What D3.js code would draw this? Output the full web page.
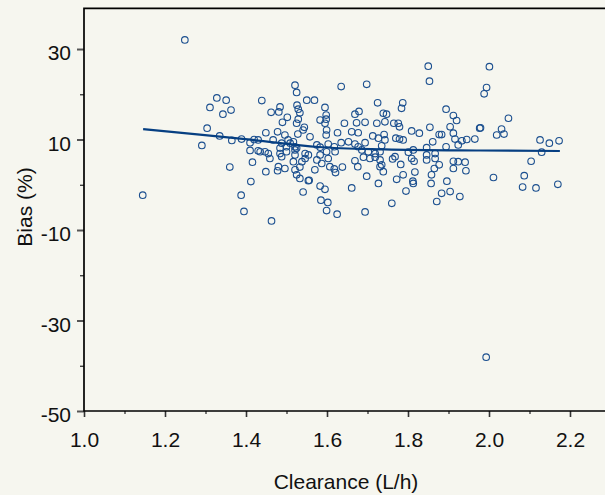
<html>
<head>
<meta charset="utf-8">
<script src="https://d3js.org/d3.v7.min.js"></script>
<style>
  body { margin: 0; padding: 0; background: #f6f6ef; }
  svg { display: block; }
  text { font-family: "Liberation Sans", Arial, sans-serif; fill: #111; }
</style>
</head>
<body>
<svg id="chart" width="605" height="495"></svg>
<script>
// values
const clearance = [
  1.145, 1.249, 1.328, 1.351, 1.311, 1.363, 1.343, 1.304, 1.335, 1.291,
  1.365, 1.389, 1.410, 1.410, 1.430, 1.416, 1.360, 1.412, 1.388, 1.395,
  1.420, 1.435, 1.430, 1.439, 1.463, 1.462, 1.484, 1.481, 1.502, 1.490,
  1.521, 1.525, 1.526, 1.529, 1.533, 1.525, 1.529, 1.449, 1.478, 1.496,
  1.528, 1.504, 1.488, 1.500, 1.509, 1.517, 1.521, 1.484, 1.467, 1.447,
  1.455, 1.484, 1.500, 1.521, 1.521, 1.459, 1.488, 1.449, 1.480, 1.478,
  1.496, 1.521, 1.525, 1.533, 1.517, 1.538, 1.533, 1.541, 1.554, 1.525,
  1.546, 1.554, 1.546, 1.550, 1.569, 1.635, 1.698, 1.595, 1.725, 1.669,
  1.679, 1.583, 1.598, 1.598, 1.643, 1.673, 1.694, 1.723, 1.739, 1.541,
  1.544, 1.595, 1.599, 1.598, 1.626, 1.661, 1.677, 1.713, 1.727, 1.743,
  1.558, 1.575, 1.583, 1.603, 1.618, 1.635, 1.653, 1.669, 1.677, 1.694,
  1.735, 1.583, 1.599, 1.620, 1.603, 1.575, 1.587, 1.669, 1.690, 1.706,
  1.719, 1.731, 1.686, 1.702, 1.719, 1.570, 1.607, 1.618, 1.638, 1.621,
  1.676, 1.731, 1.698, 1.727, 1.556, 1.583, 1.595, 1.661, 1.585, 1.602,
  1.599, 1.625, 1.694, 1.850, 1.853, 2.001, 1.994, 1.988, 1.787, 1.784,
  1.747, 1.894, 1.912, 1.920, 1.743, 1.765, 1.776, 1.779, 2.048, 1.854,
  1.904, 1.977, 1.979, 2.031, 2.019, 2.037, 1.809, 1.828, 1.877, 1.883,
  1.912, 1.741, 1.770, 1.779, 1.788, 1.861, 1.916, 1.933, 1.945, 1.965,
  1.894, 1.924, 1.846, 1.801, 1.813, 1.731, 1.867, 1.846, 1.768, 1.762,
  1.809, 1.815, 1.846, 1.867, 1.912, 1.924, 1.941, 1.735, 1.782, 1.817,
  1.877, 1.865, 1.912, 1.943, 1.739, 1.788, 1.772, 1.858, 1.812, 1.813,
  1.857, 1.896, 2.011, 1.795, 1.883, 1.904, 1.928, 1.871, 1.760, 1.993,
  2.126, 2.149, 2.173, 2.130, 2.104, 2.087, 2.083, 2.116, 2.170
];
const bias = [
  -2.3, 32.0, 19.2, 18.7, 17.1, 16.5, 15.6, 12.5, 10.8, 8.7,
  9.8, 10.1, 9.3, 7.6, 7.5, 5.0, 3.9, 0.7, -2.3, -5.9,
  10.0, 7.3, 9.9, 18.6, -8.0, 16.0, 17.2, 16.1, 14.9, 13.8,
  22.0, 20.4, 17.6, 16.7, 15.9, 13.6, 14.5, 11.5, 11.7, 11.0,
  11.2, 9.9, 9.2, 8.4, 9.2, 9.5, 8.4, 8.1, 9.9, 7.3,
  6.9, 6.9, 7.3, 7.7, 6.6, 5.8, 6.2, 2.9, 4.0, 3.1,
  3.6, 3.3, 2.2, 1.4, 5.1, 5.1, 3.9, -1.6, 0.9, 8.1,
  5.8, 6.6, 6.9, 18.7, 18.7, 21.7, 22.2, 17.1, 18.1, 15.6,
  16.2, 14.3, 14.5, 15.4, 13.6, 13.7, 13.8, 13.6, 15.8, 12.1,
  12.7, 13.6, 12.1, 11.0, 11.5, 11.7, 11.5, 10.8, 10.3, 9.9,
  10.6, 8.8, 8.3, 9.0, 8.4, 9.3, 9.5, 9.0, 8.4, 9.3,
  8.6, 6.6, 7.3, 7.3, 5.8, 5.5, 4.7, 5.3, 6.1, 5.8,
  6.1, 5.5, 7.7, 7.3, 6.9, 3.3, 4.0, 3.5, 3.9, 2.7,
  4.0, 4.0, 1.9, 0.3, 1.0, -0.3, -1.0, -0.7, -3.4, -3.9,
  -5.7, -6.5, -6.0, 26.2, 22.9, 26.1, 21.5, 20.1, 18.1, 16.9,
  15.6, 16.7, 15.3, 14.2, 13.9, 13.6, 13.6, 12.8, 14.7, 12.7,
  12.8, 12.5, 12.6, 12.3, 11.0, 11.2, 11.9, 11.4, 11.1, 11.1,
  11.4, 11.1, 10.3, 10.1, 9.9, 9.5, 10.1, 9.7, 10.0, 10.1,
  8.4, 8.8, 8.2, 7.2, 7.7, 7.3, 6.9, 6.6, 6.2, 5.7,
  5.8, 5.2, 5.5, 5.8, 5.2, 5.1, 5.0, 4.4, 4.5, 2.8,
  4.4, 3.6, 3.6, 3.1, 2.9, 2.2, 1.2, 2.2, 0.8, 0.3,
  0.3, 0.8, 1.6, -1.4, -1.9, -1.5, -2.6, -3.7, -4.1, -38.1,
  9.9, 9.2, 9.7, 7.2, 5.2, 2.0, -0.5, -0.7, 0.1
];

// smoothed trend line
const fitX = [1.146, 1.286, 1.417, 1.578, 1.743, 1.978, 2.175];
const fitY = [12.3, 11.1, 9.9, 8.35, 7.83, 7.57, 7.46];

const xMajor = [1.0, 1.2, 1.4, 1.6, 1.8, 2.0, 2.2];
const xMinor = [1.1, 1.3, 1.5, 1.7, 1.9, 2.1];
const yMajor = [-50, -30, -10, 10, 30];
const yMinor = [-40, -20, 0, 20];

const svg = d3.select("#chart");
const plotLeft = 84, plotTop = 8.3, plotBottom = 411;

const x = d3.scaleLinear().domain([1.0, 2.3]).range([plotLeft, plotLeft + 1.3 * 405]);
const y = d3.scaleLinear().domain([-50, 39]).range([plotBottom, plotTop]);

// minor ticks
svg.append("g")
    .attr("transform", "translate(0," + plotBottom + ")")
    .call(d3.axisBottom(x).tickValues(xMinor).tickSize(3).tickFormat(""))
    .call(g => g.select(".domain").remove())
    .selectAll("line").attr("stroke", "#222").attr("stroke-width", 1.2);

svg.append("g")
    .attr("transform", "translate(" + plotLeft + ",0)")
    .call(d3.axisLeft(y).tickValues(yMinor).tickSize(4).tickFormat(""))
    .call(g => g.select(".domain").remove())
    .selectAll("line").attr("stroke", "#222").attr("stroke-width", 1.2);

// major ticks
const xAxis = svg.append("g")
    .attr("transform", "translate(0," + plotBottom + ")")
    .call(d3.axisBottom(x).tickValues(xMajor).tickSize(6).tickPadding(15).tickFormat(d => d.toFixed(1)));
xAxis.select(".domain").remove();
xAxis.selectAll("line").attr("stroke", "#333").attr("stroke-width", 1.6);
xAxis.selectAll("text")
    .attr("font-size", 21)
    .attr("font-family", "Liberation Sans, Arial, sans-serif")
    .attr("fill", "#111");

const yAxis = svg.append("g")
    .attr("transform", "translate(" + plotLeft + ",0)")
    .call(d3.axisLeft(y).tickValues(yMajor).tickSize(7).tickPadding(6).tickFormat(d => String(d)));
yAxis.select(".domain").remove();
yAxis.selectAll("line").attr("stroke", "#555").attr("stroke-width", 2);
yAxis.selectAll("text")
    .attr("x", -13)
    .attr("dy", "0.52em")
    .attr("font-size", 21)
    .attr("font-family", "Liberation Sans, Arial, sans-serif")
    .attr("fill", "#111");

// frame: left, top, bottom
svg.append("path")
    .attr("d", "M605," + plotTop + "H" + plotLeft + "V" + plotBottom + "H605")
    .attr("fill", "none")
    .attr("stroke", "#000")
    .attr("stroke-width", 1.7);

// points
const pts = clearance.map((c, i) => [c, bias[i]]);
svg.append("g").selectAll("circle")
    .data(pts)
    .join("circle")
    .attr("cx", d => x(d[0]))
    .attr("cy", d => y(d[1]))
    .attr("r", 3.3)
    .attr("fill", "none")
    .attr("stroke", "#1b4f8f")
    .attr("stroke-width", 1.1);

// trend
const line = d3.line()
    .x(d => x(d[0]))
    .y(d => y(d[1]))
    .curve(d3.curveMonotoneX);
svg.append("path")
    .datum(fitX.map((v, i) => [v, fitY[i]]))
    .attr("d", line)
    .attr("fill", "none")
    .attr("stroke", "#063f82")
    .attr("stroke-width", 2.2);

// axis titles
svg.append("text")
    .attr("x", 346)
    .attr("y", 489)
    .attr("text-anchor", "middle")
    .attr("font-size", 21)
    .text("Clearance (L/h)");

svg.append("text")
    .attr("transform", "translate(32,207) rotate(-90)")
    .attr("text-anchor", "middle")
    .attr("font-size", 21)
    .text("Bias (%)");
</script>
</body>
</html>
